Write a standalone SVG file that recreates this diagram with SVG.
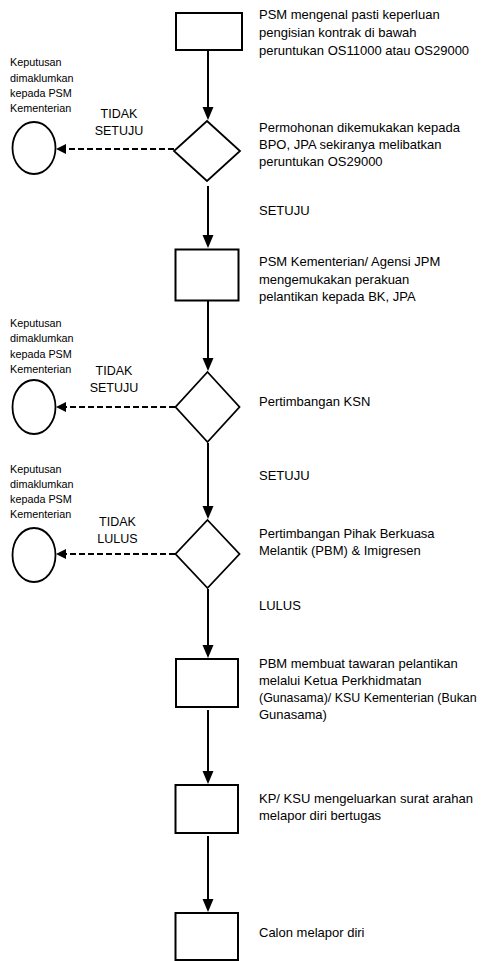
<svg xmlns="http://www.w3.org/2000/svg" width="485" height="961" viewBox="0 0 485 961">
<style>
.box{fill:#fff;stroke:#000;stroke-width:2}
.dia{fill:#fff;stroke:#000;stroke-width:1.8}
.term{fill:#fff;stroke:#000;stroke-width:1.8}
.flow{stroke:#000;stroke-width:2;fill:none;marker-end:url(#ah)}
.dash{stroke:#000;stroke-width:2;fill:none;stroke-dasharray:6 3;marker-end:url(#ahs)}
text{font-family:"Liberation Sans",Arial,sans-serif;fill:#000}
.desc{font-size:13px}
.tight{font-size:12.4px}
.small{font-size:10.8px}
.lab{font-size:12.5px;text-anchor:middle}
</style>
<defs>
<marker id="ah" markerUnits="userSpaceOnUse" markerWidth="14" markerHeight="12" refX="5" refY="5.5" orient="auto">
<path d="M0,0 L13,5.5 L0,11 Z" fill="#000"/>
</marker>
<marker id="ahs" markerUnits="userSpaceOnUse" markerWidth="12" markerHeight="12" refX="5" refY="5" orient="auto">
<path d="M0,0 L10,5 L0,10 Z" fill="#000"/>
</marker>
</defs>
<rect width="485" height="961" fill="#fff"/>

<g id="connectors">
<line class="flow" x1="208" y1="51" x2="208" y2="112"/>
<line class="flow" x1="208" y1="186" x2="208" y2="240"/>
<line class="flow" x1="208" y1="301" x2="208" y2="363"/>
<line class="flow" x1="208" y1="443" x2="208" y2="511"/>
<line class="flow" x1="208" y1="589" x2="208" y2="650"/>
<line class="flow" x1="208" y1="710" x2="208" y2="776"/>
<line class="flow" x1="208" y1="836" x2="208" y2="904"/>
<line class="dash" x1="174" y1="149" x2="61" y2="149"/>
<line class="dash" x1="175" y1="407" x2="61" y2="407"/>
<line class="dash" x1="175" y1="554" x2="61" y2="554"/>
</g>

<g id="n1">
<rect class="box" x="176" y="13" width="66" height="37"/>
<text class="desc" x="259" y="19">PSM mengenal pasti keperluan</text>
<text class="desc" x="259" y="37">pengisian kontrak di bawah</text>
<text class="desc" x="259" y="55">peruntukan OS11000 atau OS29000</text>
</g>

<g id="d1">
<polygon class="dia" points="207,121 240,151 207,181 174,151"/>
<text class="desc" x="259" y="132">Permohonan dikemukakan kepada</text>
<text class="desc" x="259" y="149">BPO, JPA sekiranya melibatkan</text>
<text class="desc" x="259" y="166">peruntukan OS29000</text>
</g>

<g id="c1">
<ellipse class="term" cx="34" cy="148" rx="21.5" ry="26"/>
<text class="small" x="10" y="66">Keputusan</text>
<text class="small" x="10" y="81.5">dimaklumkan</text>
<text class="small" x="10" y="97">kepada PSM</text>
<text class="small" x="10" y="112">Kementerian</text>
</g>

<g id="lbl1">
<text class="lab" x="119" y="118">TIDAK</text>
<text class="lab" x="119" y="135">SETUJU</text>
<text class="desc" x="259" y="215">SETUJU</text>
</g>

<g id="n2">
<rect class="box" x="175.5" y="249.5" width="63" height="51"/>
<text class="desc" x="259" y="266">PSM Kementerian/ Agensi JPM</text>
<text class="desc" x="259" y="284">mengemukakan perakuan</text>
<text class="desc" x="259" y="301">pelantikan kepada BK, JPA</text>
</g>

<g id="d2">
<polygon class="dia" points="207.5,372 239.5,407 207.5,442 175.5,407"/>
<text class="desc" x="259" y="406">Pertimbangan KSN</text>
</g>

<g id="c2">
<ellipse class="term" cx="34" cy="407" rx="21.5" ry="27"/>
<text class="small" x="10" y="327">Keputusan</text>
<text class="small" x="10" y="342">dimaklumkan</text>
<text class="small" x="10" y="357.5">kepada PSM</text>
<text class="small" x="10" y="373">Kementerian</text>
</g>

<g id="lbl2">
<text class="lab" x="114" y="375">TIDAK</text>
<text class="lab" x="114" y="392">SETUJU</text>
<text class="desc" x="259" y="480">SETUJU</text>
</g>

<g id="d3">
<polygon class="dia" points="207.5,520 239.5,554 207.5,588 175.5,554"/>
<text class="desc" x="259" y="538">Pertimbangan Pihak Berkuasa</text>
<text class="desc" x="259" y="555">Melantik (PBM) &amp; Imigresen</text>
</g>

<g id="c3">
<ellipse class="term" cx="34" cy="555" rx="21.5" ry="27"/>
<text class="small" x="10" y="473">Keputusan</text>
<text class="small" x="10" y="488">dimaklumkan</text>
<text class="small" x="10" y="503">kepada PSM</text>
<text class="small" x="10" y="518">Kementerian</text>
</g>

<g id="lbl3">
<text class="lab" x="117.5" y="526">TIDAK</text>
<text class="lab" x="117.5" y="543">LULUS</text>
<text class="desc" x="259" y="610">LULUS</text>
</g>

<g id="n3">
<rect class="box" x="176" y="659" width="62" height="48"/>
<text class="desc" x="259" y="668">PBM membuat tawaran pelantikan</text>
<text class="desc" x="259" y="685">melalui Ketua Perkhidmatan</text>
<text class="tight" x="259" y="702">(Gunasama)/ KSU Kementerian (Bukan</text>
<text class="desc" x="259" y="719">Gunasama)</text>
</g>

<g id="n4">
<rect class="box" x="175.5" y="785" width="62.5" height="48"/>
<text class="desc" x="259" y="803">KP/ KSU mengeluarkan surat arahan</text>
<text class="desc" x="259" y="820">melapor diri bertugas</text>
</g>

<g id="n5">
<rect class="box" x="175.5" y="913" width="62.5" height="47"/>
<text class="desc" x="259" y="937">Calon melapor diri</text>
</g>
</svg>
